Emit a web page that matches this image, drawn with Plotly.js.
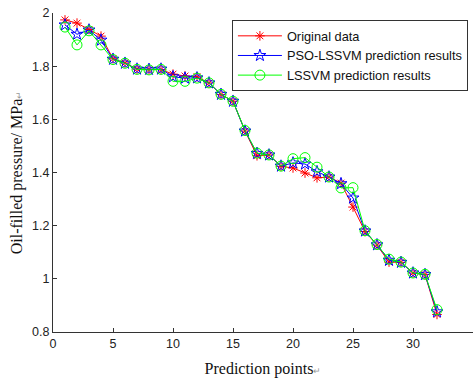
<!DOCTYPE html>
<html>
<head>
<meta charset="utf-8">
<script src="https://cdn.plot.ly/plotly-3.0.1.min.js"></script>
<style>html,body{margin:0;padding:0;background:#fff;}#chart{width:476px;height:379px;}</style>
</head>
<body>
<div id="chart"></div>
<script>
const points = [1,2,3,4,5,6,7,8,9,10,11,12,13,14,15,16,17,18,19,20,21,22,23,24,25,26,27,28,29,30,31,32];
const originalData = [1.974,1.962,1.938,1.913,1.828,1.812,1.789,1.787,1.787,1.770,1.763,1.760,1.737,1.693,1.668,1.556,1.463,1.466,1.423,1.417,1.398,1.380,1.383,1.360,1.270,1.178,1.127,1.063,1.062,1.022,1.016,0.866];
const psoLssvm = [1.955,1.920,1.936,1.898,1.826,1.811,1.789,1.788,1.789,1.760,1.755,1.756,1.737,1.694,1.668,1.556,1.472,1.466,1.424,1.436,1.432,1.403,1.383,1.358,1.304,1.180,1.128,1.070,1.062,1.022,1.016,0.876];
const lssvm = [1.947,1.880,1.933,1.880,1.825,1.811,1.788,1.786,1.788,1.743,1.743,1.755,1.737,1.694,1.668,1.558,1.473,1.466,1.424,1.452,1.456,1.420,1.383,1.342,1.343,1.181,1.129,1.074,1.063,1.022,1.017,0.884];
const seriesNames = ["Original data","PSO-LSSVM prediction results","LSSVM prediction results"];
const xTicks = [0,5,10,15,20,25,30,35];
const yTicks = [0.8,1,1.2,1.4,1.6,1.8,2];
const yTickText = ["0.8","1","1.2","1.4","1.6","1.8","2"];

const traces = [
  {x: points, y: originalData, name: seriesNames[0], mode: 'lines+markers',
   line: {color: '#ff0000', width: 1}, marker: {symbol: 'asterisk-open', size: 8, color: '#ff0000', line: {color: '#ff0000', width: 1}}},
  {x: points, y: psoLssvm, name: seriesNames[1], mode: 'lines+markers',
   line: {color: '#0000ff', width: 1}, marker: {symbol: 'star-open', size: 9, color: '#0000ff', line: {color: '#0000ff', width: 1}}},
  {x: points, y: lssvm, name: seriesNames[2], mode: 'lines+markers',
   line: {color: '#00ff00', width: 1}, marker: {symbol: 'circle-open', size: 10, color: '#00ff00', line: {color: '#00ff00', width: 1}}}
];

const layout = {
  width: 476, height: 379,
  margin: {l: 53, r: 3, t: 13, b: 47},
  paper_bgcolor: '#ffffff', plot_bgcolor: '#ffffff',
  font: {family: 'Arial, Liberation Sans, sans-serif', size: 12, color: '#222'},
  showlegend: true,
  legend: {x: 0.426, y: 0.978, xanchor: 'left', yanchor: 'top',
    bordercolor: '#333', borderwidth: 1, bgcolor: '#ffffff',
    font: {family: 'Arial, Liberation Sans, sans-serif', size: 12.8, color: '#111'},
    itemwidth: 44, tracegroupgap: 0},
  xaxis: {range: [0, 35], tickvals: xTicks, ticktext: xTicks.map(String),
    showgrid: false, zeroline: false, showline: true, linecolor: '#333', linewidth: 1,
    ticks: 'inside', ticklen: 4, tickcolor: '#333', mirror: false,
    tickfont: {size: 12.5, color: '#222'},
    title: {text: 'Prediction points<span style="font-size:9px;color:#999">↵</span>', standoff: 12,
      font: {family: 'Times New Roman, Liberation Serif, serif', size: 16, color: '#111'}}},
  yaxis: {range: [0.8, 2], tickvals: yTicks, ticktext: yTickText,
    showgrid: false, zeroline: false, showline: true, linecolor: '#333', linewidth: 1,
    ticks: 'inside', ticklen: 4, tickcolor: '#333', mirror: false,
    tickfont: {size: 12.5, color: '#222'},
    title: {text: 'Oil-filled pressure/ MPa<span style="font-size:9px;color:#999">↵</span>', standoff: 5,
      font: {family: 'Times New Roman, Liberation Serif, serif', size: 16, color: '#111'}}}
};

Plotly.newPlot('chart', traces, layout, {displayModeBar: false, staticPlot: true});
</script>
</body>
</html>
